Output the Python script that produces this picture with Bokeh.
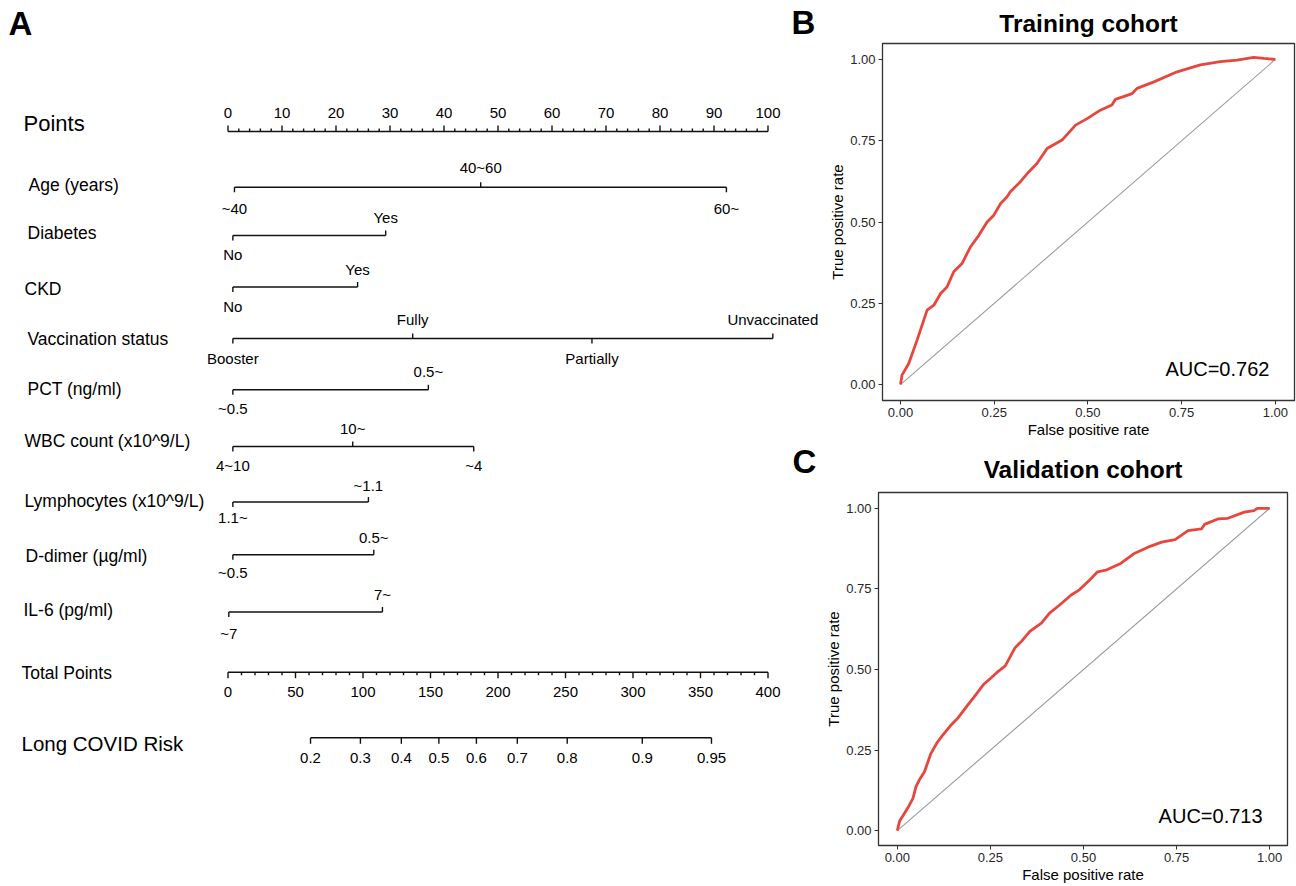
import numpy as np
from bokeh.plotting import figure
from bokeh.models import Range1d, Label, NumeralTickFormatter, FixedTicker
from bokeh.layouts import row, column
from bokeh.embed import file_html
from bokeh.resources import INLINE
from bokeh.core.properties import value

FONT = "Liberation Sans"

# ---------------- nomogram data ----------------
points_major = list(range(0, 101, 10))
points_minor = [v for v in range(0, 101, 2) if v % 10]

age_levels = ["~40", "40~60", "60~"]
age_points = [1.2, 46.8, 92.3]
age_sides = ["below", "above", "below"]

diabetes_levels = ["No", "Yes"]
diabetes_points = [0.9, 29.2]
diabetes_sides = ["below", "above"]

ckd_levels = ["No", "Yes"]
ckd_points = [0.9, 24.0]
ckd_sides = ["below", "above"]

vacc_levels = ["Booster", "Fully", "Partially", "Unvaccinated"]
vacc_points = [0.9, 34.2, 67.4, 100.9]
vacc_sides = ["below", "above", "below", "above"]

pct_levels = ["~0.5", "0.5~"]
pct_points = [0.9, 37.1]
pct_sides = ["below", "above"]

wbc_levels = ["4~10", "10~", "~4"]
wbc_points = [0.9, 23.1, 45.5]
wbc_sides = ["below", "above", "below"]

lym_levels = ["1.1~", "~1.1"]
lym_points = [0.9, 26.0]
lym_sides = ["below", "above"]

dd_levels = ["~0.5", "0.5~"]
dd_points = [0.9, 27.0]
dd_sides = ["below", "above"]

il6_levels = ["~7", "7~"]
il6_points = [0.15, 28.6]
il6_sides = ["below", "above"]

total_major = list(range(0, 401, 50))
total_minor = [v for v in range(0, 401, 10) if v % 50]

risk_ticks = [0.2, 0.3, 0.4, 0.5, 0.6, 0.7, 0.8, 0.9, 0.95]
risk_labels = ["0.2", "0.3", "0.4", "0.5", "0.6", "0.7", "0.8", "0.9", "0.95"]
risk_intercept = 156.2   # total points at logit = 0
risk_slope = 68.58       # total points per logit unit

# ---------------- ROC data ----------------
train_fpr = [0.0, 0.004, 0.022, 0.044, 0.071, 0.089, 0.107, 0.124, 0.142, 0.164, 0.187, 0.209,
             0.231, 0.249, 0.267, 0.284, 0.293, 0.32, 0.342, 0.364, 0.391, 0.431, 0.467, 0.498,
             0.533, 0.564, 0.573, 0.618, 0.631, 0.676, 0.738, 0.8, 0.853, 0.898, 0.942, 0.969, 1.0]
train_tpr = [0.0, 0.029, 0.065, 0.136, 0.229, 0.244, 0.28, 0.30, 0.347, 0.372, 0.424, 0.459,
             0.50, 0.521, 0.557, 0.577, 0.593, 0.624, 0.654, 0.68, 0.726, 0.752, 0.798, 0.818,
             0.844, 0.86, 0.877, 0.895, 0.911, 0.931, 0.962, 0.983, 0.993, 0.998, 1.006, 1.003, 1.0]

valid_fpr = [0.0, 0.006, 0.028, 0.042, 0.05, 0.059, 0.073, 0.09, 0.108, 0.121, 0.143, 0.161,
             0.188, 0.205, 0.232, 0.25, 0.267, 0.29, 0.316, 0.334, 0.356, 0.387, 0.409, 0.436,
             0.467, 0.489, 0.516, 0.538, 0.56, 0.6, 0.635, 0.679, 0.71, 0.746, 0.781, 0.817,
             0.825, 0.861, 0.888, 0.932, 0.958, 0.967, 1.0]
valid_tpr = [0.0, 0.029, 0.07, 0.10, 0.136, 0.157, 0.183, 0.239, 0.275, 0.295, 0.326, 0.347,
             0.388, 0.413, 0.454, 0.472, 0.49, 0.511, 0.567, 0.588, 0.618, 0.644, 0.675, 0.70,
             0.731, 0.747, 0.777, 0.803, 0.808, 0.829, 0.859, 0.882, 0.895, 0.903, 0.931, 0.936,
             0.95, 0.967, 0.969, 0.988, 0.993, 1.0, 1.0]

chance_x = [0, 1]
chance_y = [0, 1]

# ---------------- nomogram figure ----------------
PAGE = 0                 # observed page offset
NW, NH = 822, 885
X0, PX = 227.5, 5.4      # screen px of 0 points, px per point (layout)


def sx(px):
    """screen px (reference picture) -> points units of the nomogram frame"""
    return (px - X0) / PX


nom = figure(width=NW, height=NH, output_backend="svg", toolbar_location=None,
             x_range=Range1d(sx(PAGE), sx(PAGE + NW)), y_range=Range1d(PAGE + NH, PAGE),
             x_axis_type=None, y_axis_type=None, min_border=0)
nom.outline_line_color = None
nom.xgrid.visible = False
nom.ygrid.visible = False
nom.extra_x_ranges = {"total": Range1d(sx(PAGE) * 4, sx(PAGE + NW) * 4)}

LW = 1.4
LC = "#111111"
TXT = dict(text_font=value(FONT), text_color="black", text_baseline="middle")

# Points axis
y_pts = 131
nom.segment(x0=[points_major[0]], y0=[y_pts], x1=[points_major[-1]], y1=[y_pts], line_color=LC, line_width=LW)
nom.segment(x0=points_major, y0=[y_pts] * len(points_major), x1=points_major, y1=[y_pts - 6] * len(points_major),
            line_color=LC, line_width=LW)
nom.segment(x0=points_minor, y0=[y_pts] * len(points_minor), x1=points_minor, y1=[y_pts - 3] * len(points_minor),
            line_color=LC, line_width=LW)
nom.text(x=points_major, y=[112] * len(points_major), text=[str(v) for v in points_major],
         text_font_size="15px", text_align="center", **TXT)

# variable rows
rows = [
    ("Age (years)", age_levels, age_points, age_sides, 186.7, 184, 28, -20, 21),
    ("Diabetes", diabetes_levels, diabetes_points, diabetes_sides, 235, 232, 27, -18, 19),
    ("CKD", ckd_levels, ckd_points, ckd_sides, 286.5, 288, 24, -18, 19),
    ("Vaccination status", vacc_levels, vacc_points, vacc_sides, 338, 338, 27, -19, 20),
    ("PCT (ng/ml)", pct_levels, pct_points, pct_sides, 389.3, 388, 27, -18, 19),
    ("WBC count (x10^9/L)", wbc_levels, wbc_points, wbc_sides, 446, 440, 24, -18, 19),
    ("Lymphocytes (x10^9/L)", lym_levels, lym_points, lym_sides, 501.5, 500, 24, -17, 15),
    ("D-dimer (\u00b5g/ml)", dd_levels, dd_points, dd_sides, 554.3, 555, 25, -17, 18),
    ("IL-6 (pg/ml)", il6_levels, il6_points, il6_sides, 611.5, 609, 23, -18, 21),
]

for name, levels, pts, sides, ly, ny, nx, off_a, off_b in rows:
    nom.segment(x0=[min(pts)], y0=[ly], x1=[max(pts)], y1=[ly], line_color=LC, line_width=LW)
    t_end = [ly - 5 if s == "above" else ly + 5 for s in sides]
    nom.segment(x0=pts, y0=[ly] * len(pts), x1=pts, y1=t_end, line_color=LC, line_width=LW)
    lab_y = [ly + off_a if s == "above" else ly + off_b for s in sides]
    nom.text(x=pts, y=lab_y, text=levels, text_font_size="15px", text_align="center", **TXT)
    nom.text(x=[sx(nx)], y=[ny], text=[name], text_font_size="17.5px", text_align="left", **TXT)

nom.text(x=[sx(23)], y=[123], text=["Points"], text_font_size="22px", text_align="left", **TXT)

# Total points axis
y_tot = 671.7
nom.segment(x0=[total_major[0]], y0=[y_tot], x1=[total_major[-1]], y1=[y_tot], line_color=LC,
            line_width=LW, x_range_name="total")
nom.segment(x0=total_major, y0=[y_tot] * len(total_major), x1=total_major, y1=[y_tot + 6] * len(total_major),
            line_color=LC, line_width=LW, x_range_name="total")
nom.segment(x0=total_minor, y0=[y_tot] * len(total_minor), x1=total_minor, y1=[y_tot + 3] * len(total_minor),
            line_color=LC, line_width=LW, x_range_name="total")
nom.text(x=total_major, y=[691.5] * len(total_major), text=[str(v) for v in total_major],
         text_font_size="15px", text_align="center", x_range_name="total", **TXT)
nom.text(x=[sx(21)], y=[672], text=["Total Points"], text_font_size="17.5px", text_align="left", **TXT)

# Risk axis
risk_arr = np.array(risk_ticks)
risk_tp = list(risk_intercept + risk_slope * np.log(risk_arr / (1 - risk_arr)))
y_risk = 737.3
nom.segment(x0=[risk_tp[0]], y0=[y_risk], x1=[risk_tp[-1]], y1=[y_risk], line_color=LC,
            line_width=LW, x_range_name="total")
nom.segment(x0=risk_tp, y0=[y_risk] * len(risk_tp), x1=risk_tp, y1=[y_risk + 6] * len(risk_tp),
            line_color=LC, line_width=LW, x_range_name="total")
nom.text(x=risk_tp, y=[757.5] * len(risk_tp), text=risk_labels, text_font_size="15px",
         text_align="center", x_range_name="total", **TXT)
nom.text(x=[sx(21)], y=[743], text=["Long COVID Risk"], text_font_size="20.5px", text_align="left", **TXT)

# panel letters
nom.text(x=[sx(8), sx(791), sx(792)], y=[23, 22, 461], text=["A", "B", "C"], text_font_size="33px",
         text_font_style="bold", text_align="left", **TXT)


# ---------------- ROC figures ----------------
def roc_fig(title, fpr, tpr, auc, xr, yr, h, borders, auc_xy, standoff):
    bl, br, bt, bb = borders
    p = figure(width=474, height=h, output_backend="svg", toolbar_location=None,
               x_range=Range1d(*xr), y_range=Range1d(*yr),
               min_border_left=bl, min_border_right=br, min_border_top=bt, min_border_bottom=bb,
               title=title, frame_align=False)
    p.title.align = "center"
    p.title.text_font = FONT
    p.title.text_font_size = "24.5px"
    p.title.text_font_style = "bold"
    p.title.text_color = "black"
    p.title.standoff = standoff
    p.xgrid.visible = False
    p.ygrid.visible = False
    p.outline_line_color = "#333333"
    p.outline_line_width = 1.3
    for ax in (p.xaxis, p.yaxis):
        ax.ticker = FixedTicker(ticks=[0, 0.25, 0.5, 0.75, 1.0])
        ax.formatter = NumeralTickFormatter(format="0.00")
        ax.minor_tick_line_color = None
        ax.major_tick_in = 0
        ax.major_tick_out = 4
        ax.major_tick_line_color = "#333333"
        ax.axis_line_color = "#333333"
        ax.major_label_text_font = FONT
        ax.major_label_text_font_size = "13px"
        ax.major_label_text_color = "#262626"
        ax.major_label_standoff = 3
        ax.axis_label_text_font = FONT
        ax.axis_label_text_font_size = "15px"
        ax.axis_label_text_font_style = "normal"
        ax.axis_label_text_color = "black"
        ax.axis_label_standoff = 1
    p.xaxis.axis_label = "False positive rate"
    p.yaxis.axis_label = "True positive rate"
    p.line(chance_x, chance_y, line_color="#9A9A9A", line_width=1.1)
    p.line(fpr, tpr, line_color="#E8453C", line_width=2.8)
    p.add_layout(Label(x=auc_xy[0], y=auc_xy[1], text=auc, text_font=FONT, text_font_size="20px",
                       text_align="right", text_baseline="middle", text_color="black"))
    return p


roc_b = roc_fig("Training cohort", train_fpr, train_tpr, "AUC=0.762",
                (-0.048, 1.051), (-0.049, 1.049), 444, (60, 2, 43, 44), (0.984, 0.049), 14)
roc_c = roc_fig("Validation cohort", valid_fpr, valid_tpr, "AUC=0.713",
                (-0.0505, 1.048), (-0.046, 1.049), 441, (52, 9, 48, 37), (0.981, 0.046), 19)

layout = row(nom, column(roc_b, roc_c))
open("out.html", "w").write(file_html(layout, INLINE))
